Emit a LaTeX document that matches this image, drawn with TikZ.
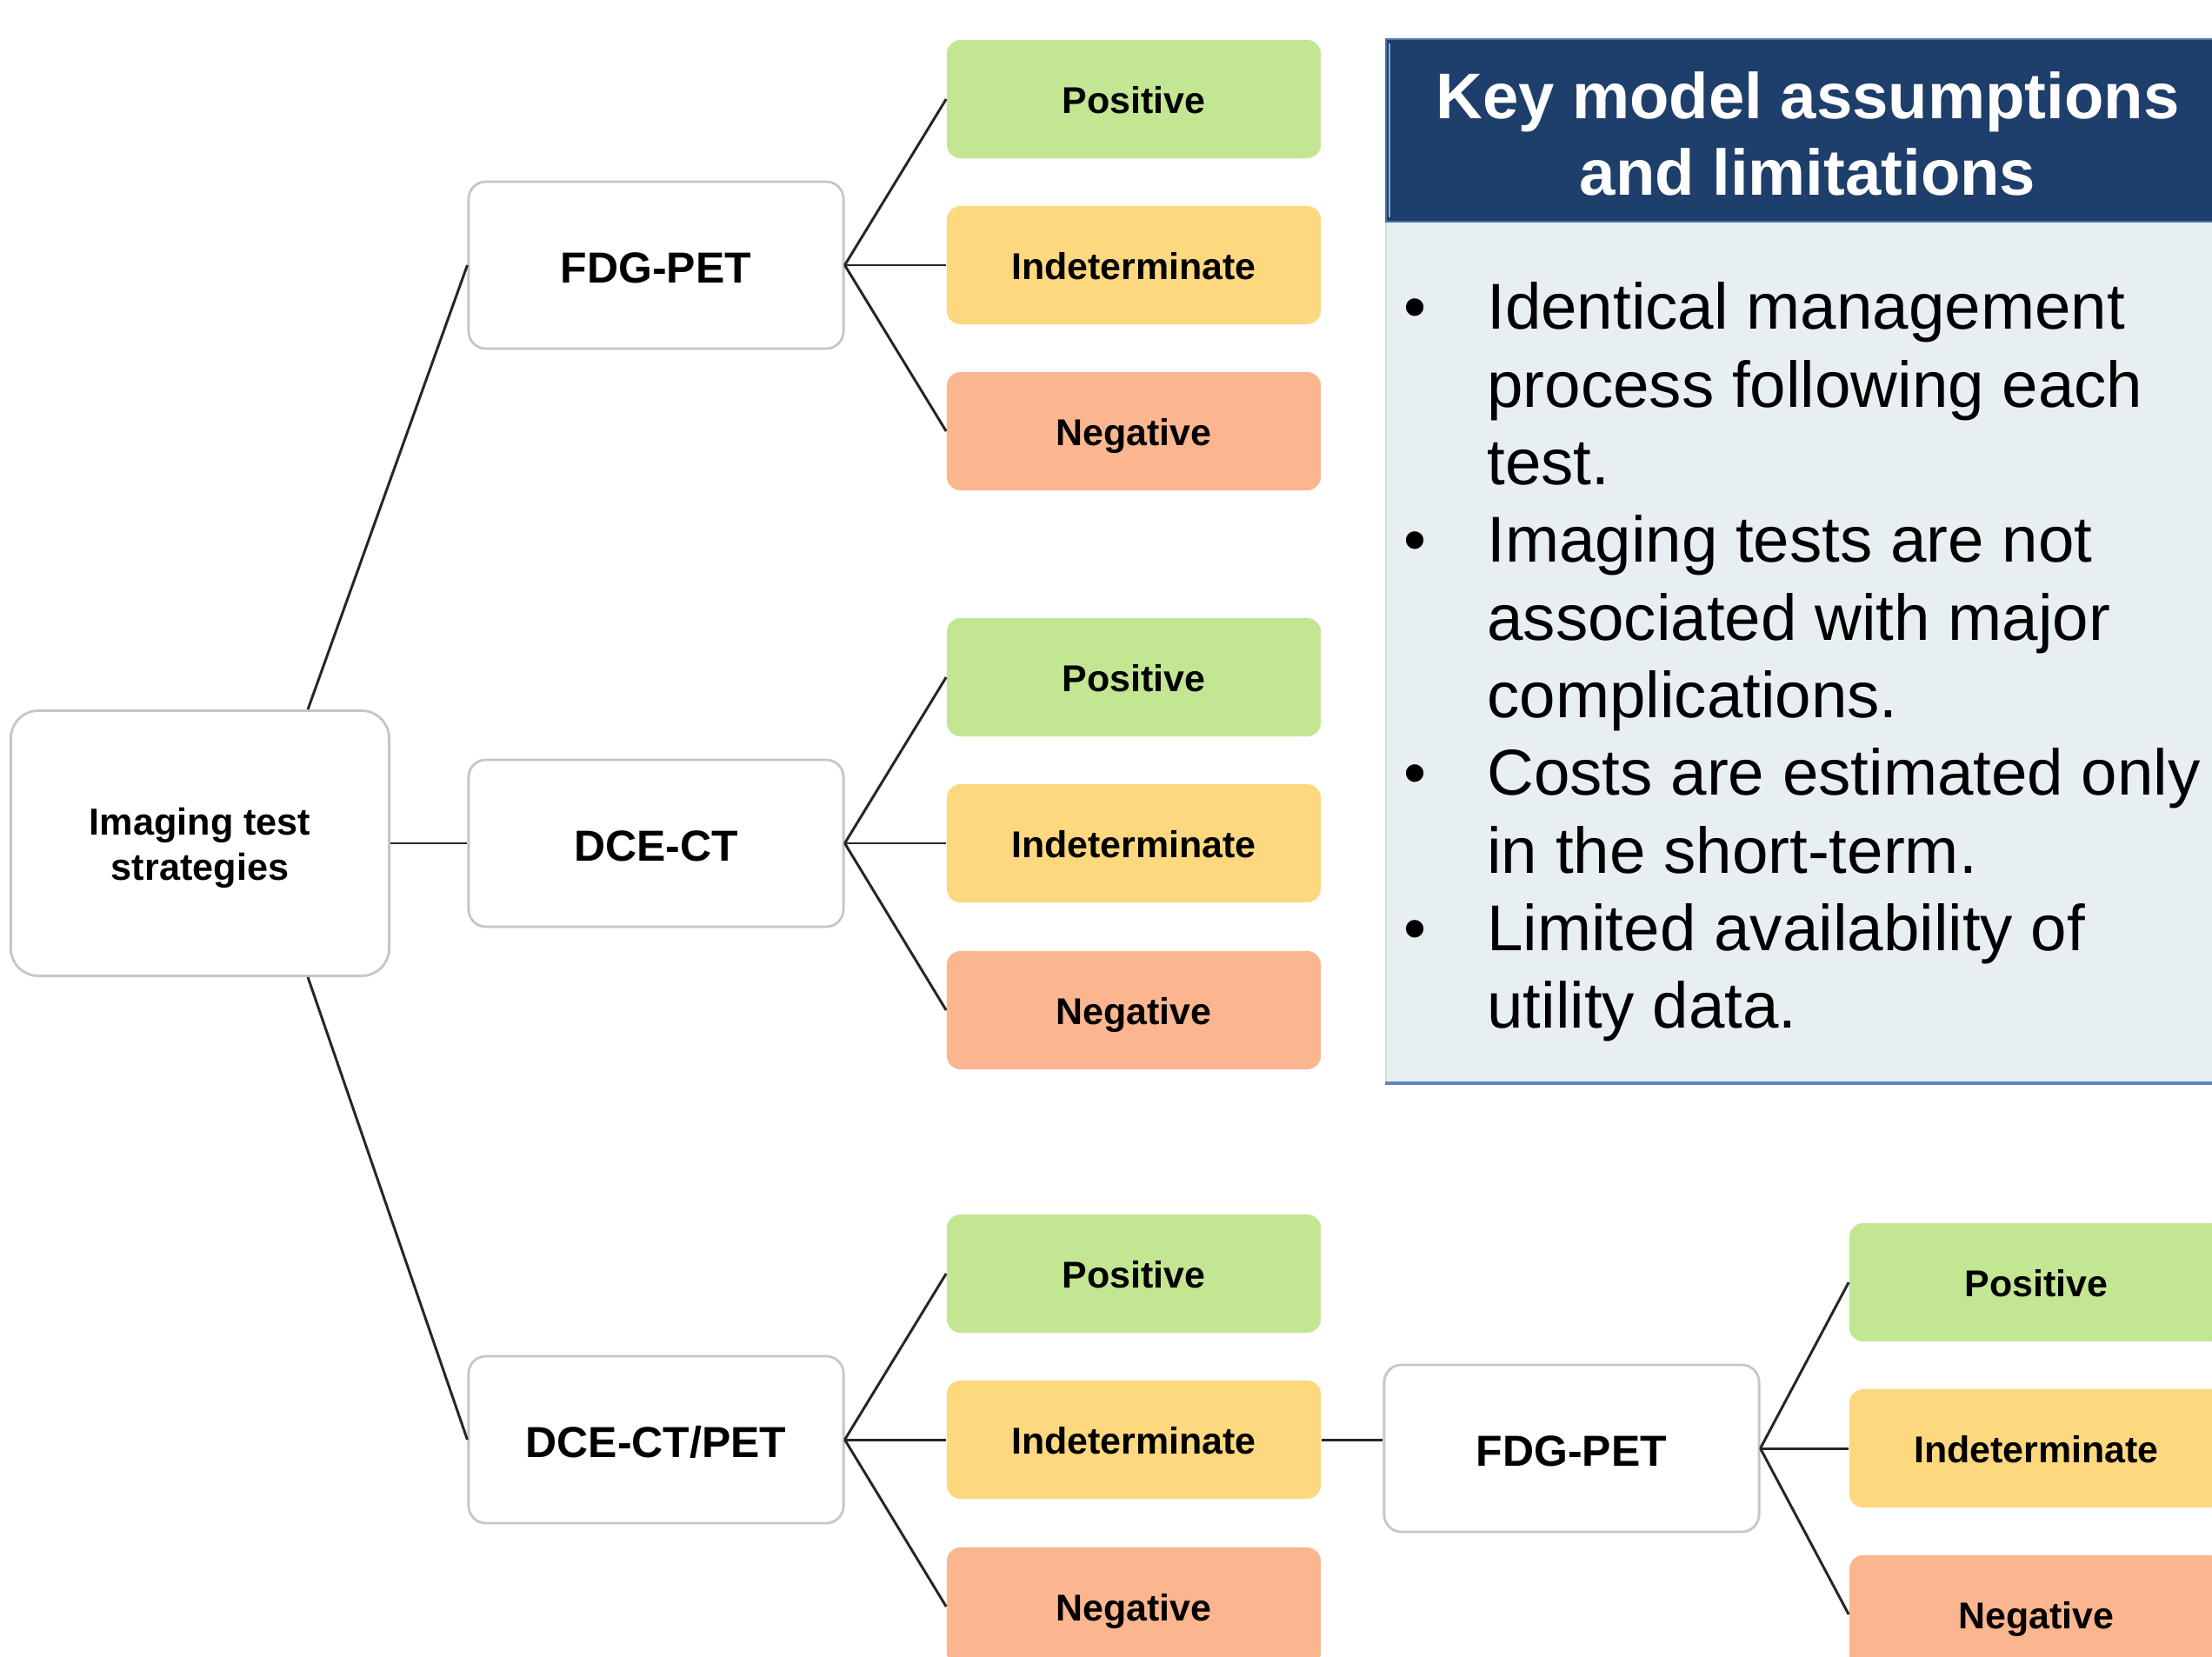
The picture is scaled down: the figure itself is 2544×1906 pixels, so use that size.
\documentclass[tikz,border=0pt]{standalone}
\usepackage{fontspec}
\setmainfont{Liberation Sans}
\usetikzlibrary{calc}

\definecolor{posgreen}{HTML}{C3E693}
\definecolor{indyellow}{HTML}{FDD87E}
\definecolor{negorange}{HTML}{FBB68F}
\definecolor{boxgrey}{HTML}{C6C6C6}
\definecolor{headnavy}{HTML}{1E3E6B}
\definecolor{headedge}{HTML}{4F77AA}
\definecolor{headlight}{HTML}{7FAEE0}
\definecolor{panelbg}{HTML}{E8EFF2}
\definecolor{paneledge}{HTML}{D3DDE2}
\definecolor{panelline}{HTML}{5A88BE}

\tikzset{
  wire/.style={draw=black!85, line width=0.85pt},
  rootbox/.style={draw=boxgrey, line width=0.8pt, fill=white, rounded corners=0.32cm,
    minimum width=4.35cm, minimum height=3.05cm, inner sep=0},
  roottext/.style={inner sep=0, align=center,
    font=\fontsize{12.3}{14.8}\selectfont\bfseries},
  testbox/.style={draw=boxgrey, line width=0.8pt, fill=white, rounded corners=0.2cm,
    minimum width=4.31cm, minimum height=1.92cm, inner sep=0,
    text height=11.6pt, text depth=0pt,
    font=\fontsize{14.2}{17}\selectfont\bfseries},
  result/.style={rounded corners=0.16cm, minimum width=4.30cm, minimum height=1.36cm,
    inner sep=0, text height=9.4pt, text depth=0pt,
    font=\fontsize{12.2}{14.6}\selectfont\bfseries},
  posbox/.style={result, fill=posgreen},
  indbox/.style={result, fill=indyellow},
  negbox/.style={result, fill=negorange},
}

\newcommand{\bul}{\makebox[27.2pt][l]{\textbullet}}
\newcommand{\gap}{\hspace*{27.2pt}}

\begin{document}
\begin{tikzpicture}[x=0.01cm, y=-0.01cm]
  \useasboundingbox[fill=white] (0,0) rectangle (2544,1906);

  % root and first-level tests
  \node[rootbox] (root) at (230,970) {};
  \node[roottext] (rootlabel) at ([yshift=-0.05cm]root.center) {Imaging test\\strategies};
  \node[testbox] (fdg) at (754.5,305) {FDG-PET};
  \node[testbox] (dce) at (754.5,970) {DCE-CT};
  \node[testbox] (dcp) at (754.5,1656) {DCE-CT/PET};

  % outcomes of FDG-PET
  \node[posbox] (p1) at (1304,114) {Positive};
  \node[indbox] (i1) at (1304,305) {Indeterminate};
  \node[negbox] (n1) at (1304,496) {Negative};
  % outcomes of DCE-CT
  \node[posbox] (p2) at (1304,779) {Positive};
  \node[indbox] (i2) at (1304,970) {Indeterminate};
  \node[negbox] (n2) at (1304,1162) {Negative};
  % outcomes of DCE-CT/PET
  \node[posbox] (p3) at (1304,1465) {Positive};
  \node[indbox] (i3) at (1304,1656) {Indeterminate};
  \node[negbox] (n3) at (1304,1848) {Negative};

  % follow-up FDG-PET after an indeterminate DCE-CT/PET
  \node[testbox] (fdg2) at (1807.5,1666) {FDG-PET};
  \node[posbox] (p4) at (2342,1475) {Positive};
  \node[indbox] (i4) at (2342,1666) {Indeterminate};
  \node[negbox] (n4) at (2342,1857) {Negative};

  % connectors
  \draw[wire] ([xshift=1.24cm]root.north) -- (fdg.west);
  \draw[wire] (root.east) -- (dce.west);
  \draw[wire] ([xshift=1.24cm]root.south) -- (dcp.west);
  \foreach \t/\a/\b/\c in {fdg/p1/i1/n1, dce/p2/i2/n2, dcp/p3/i3/n3, fdg2/p4/i4/n4}{
    \draw[wire] (\t.east) -- (\a.west);
    \draw[wire] (\t.east) -- (\b.west);
    \draw[wire] (\t.east) -- (\c.west);
  }
  \draw[wire] (i3.east) -- (i3.east -| fdg2.west);

  % assumptions panel
  \fill[panelbg] (1593,256) rectangle (2544,1246);
  \draw[paneledge, line width=0.8pt] (1594,256) -- (1594,1244);
  \draw[panelline, line width=1.1pt] (1593,1246) -- (2544,1246);
  \fill[headnavy] (1593,44) rectangle (2544,256);
  \draw[headedge, line width=0.8pt] (2544,45) -- (1594,45) -- (1594,255) -- (2544,255);
  \draw[headlight, line width=0.6pt] (1598,50) -- (1598,250);

  \node[font=\fontsize{21.14}{24.9}\selectfont\bfseries, text=white, align=center, inner sep=0]
    (title) at (2079,154) {Key model assumptions\\and limitations};

  \node[anchor=west, inner sep=0, font=\fontsize{21.2}{25.4}\selectfont] (notes) at (1614,763) {%
    \begin{tabular}{@{}l@{}}
    \bul Identical management\\
    \gap process following each\\
    \gap test.\\
    \bul Imaging tests are not\\
    \gap associated with major\\
    \gap complications.\\
    \bul Costs are estimated only\\
    \gap in the short-term.\\
    \bul Limited availability of\\
    \gap utility data.
    \end{tabular}};
\end{tikzpicture}
\end{document}
